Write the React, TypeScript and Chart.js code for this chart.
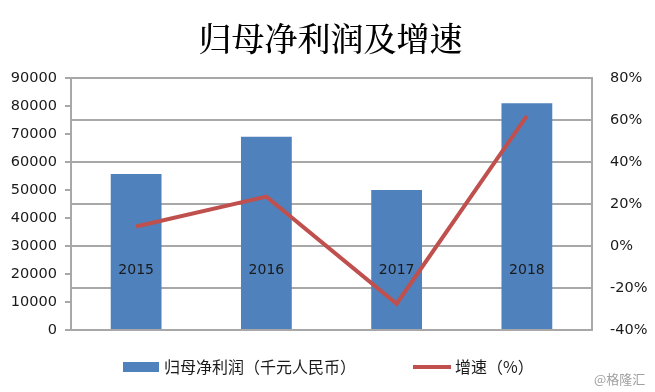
import React, { useEffect, useRef } from 'react';
import { Chart, registerables } from 'chart.js';

Chart.register(...registerables);

const title = '归母净利润及增速';
const categories = ['2015', '2016', '2017', '2018'];
const profit = [55700, 69000, 50000, 81000];
const growth = [9.3, 23.5, -27.5, 62];
const profitLabel = '归母净利润（千元人民币）';
const growthLabel = '增速（%）';
const watermark = '@格隆汇';
const leftMin = 0, leftMax = 90000, leftStep = 10000;
const rightMin = -40, rightMax = 80, rightStep = 20;

const BAR = '#4f81bd';
const LINE = '#c0504d';
const GRID = '#a8a8a8';
const TEXT = '#1a1a1a';
const CJK = '"Noto Sans CJK SC", "Noto Sans", sans-serif';

const decorPlugin = {
  id: 'decor',
  afterDatasetsDraw(chart: any) {
    const ctx = chart.ctx;
    const x = chart.scales.x;
    const y1 = chart.scales.y1;
    ctx.save();
    ctx.fillStyle = TEXT;
    ctx.font = '14px "DejaVu Sans", sans-serif';
    ctx.textAlign = 'center';
    ctx.textBaseline = 'middle';
    const yLab = y1.getPixelForValue(0) + 24;
    categories.forEach((c, i) => {
      ctx.fillText(c, x.getPixelForValue(i), yLab);
    });
    ctx.restore();
  },
  afterDraw(chart: any) {
    const ctx = chart.ctx;
    const w = chart.width;
    ctx.save();
    // title
    ctx.fillStyle = '#000';
    ctx.font = '500 33px "Noto Serif CJK SC", "Noto Sans CJK SC", serif';
    ctx.textAlign = 'center';
    ctx.textBaseline = 'middle';
    ctx.fillText(title, w / 2 + 3, 38);
    // legend
    ctx.fillStyle = BAR;
    ctx.fillRect(123, 362, 36, 10);
    ctx.fillStyle = TEXT;
    ctx.font = '16px ' + CJK;
    ctx.textAlign = 'left';
    ctx.textBaseline = 'middle';
    ctx.fillText(profitLabel, 164, 367);
    ctx.strokeStyle = LINE;
    ctx.lineWidth = 4;
    ctx.beginPath();
    ctx.moveTo(413, 367);
    ctx.lineTo(451, 367);
    ctx.stroke();
    ctx.fillText(growthLabel, 455, 367);
    // watermark
    ctx.fillStyle = '#a0a0a0';
    ctx.font = '13px ' + CJK;
    ctx.fillText(watermark, 594, 379);
    ctx.restore();
  },
};

export default function App() {
  const ref = useRef<HTMLCanvasElement>(null);
  useEffect(() => {
    document.body.style.margin = '0';
    const chart = new Chart(ref.current as HTMLCanvasElement, {
      type: 'bar',
      data: {
        labels: categories,
        datasets: [
          {
            type: 'line',
            label: growthLabel,
            data: growth,
            yAxisID: 'y1',
            borderColor: LINE,
            backgroundColor: LINE,
            borderWidth: 4,
            pointRadius: 0,
            tension: 0,
            order: 0,
          } as any,
          {
            type: 'bar',
            label: profitLabel,
            data: profit,
            yAxisID: 'y',
            backgroundColor: BAR,
            borderWidth: 0,
            barPercentage: 0.39,
            categoryPercentage: 1,
            order: 1,
          },
        ],
      },
      options: {
        responsive: false,
        animation: false,
        layout: { padding: { top: 78, bottom: 62, left: 0, right: 0 } },
        plugins: { legend: { display: false }, title: { display: false }, tooltip: { enabled: false } },
        scales: {
          x: { type: 'category', offset: true, display: false, grid: { display: false } },
          y: {
            position: 'left',
            min: leftMin,
            max: leftMax,
            afterFit: (s: any) => { s.width = 71; },
            ticks: {
              stepSize: leftStep,
              padding: 8,
              color: TEXT,
              font: { family: '"DejaVu Sans", sans-serif', size: 14.5 },
              callback: (v: any) => String(v),
            },
            grid: { drawOnChartArea: false, drawTicks: true, tickLength: 6, color: GRID, lineWidth: 2 },
            border: { display: true, color: GRID, width: 2 },
          },
          y1: {
            position: 'right',
            min: rightMin,
            max: rightMax,
            afterFit: (s: any) => { s.width = 63; },
            ticks: {
              stepSize: rightStep,
              padding: 18,
              color: TEXT,
              font: { family: '"DejaVu Sans", sans-serif', size: 14.5 },
              callback: (v: any) => v + '%',
            },
            grid: { drawOnChartArea: true, drawTicks: false, color: GRID, lineWidth: 2 },
            border: { display: true, color: GRID, width: 2 },
          },
        },
      },
      plugins: [decorPlugin],
    });
    return () => chart.destroy();
  }, []);
  return (
    <div style={{ width: 655, height: 392 }}>
      <canvas ref={ref} width={655} height={392} />
    </div>
  );
}
